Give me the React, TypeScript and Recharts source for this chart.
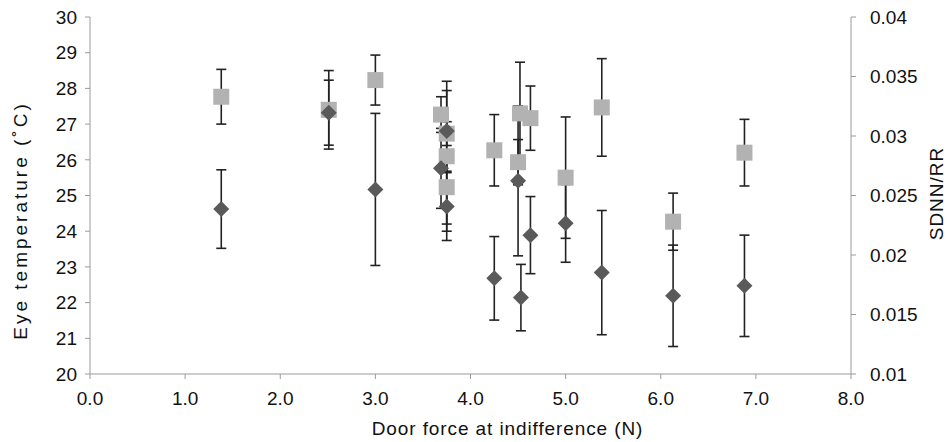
import React from 'react';
import { ScatterChart, Scatter, XAxis, YAxis, ErrorBar } from 'recharts';

// SDNN/RR (light squares, right axis)
const sdnnForce = [1.38, 2.51, 3.0, 3.69, 3.75, 3.75, 3.75, 4.25, 4.52, 4.63, 4.5, 5.0, 5.38, 6.13, 6.88];
const sdnnValues = [0.0333, 0.0322, 0.0347, 0.0318, 0.0302, 0.0283, 0.0257, 0.0288, 0.0319, 0.0315, 0.0278, 0.0265, 0.0324, 0.0228, 0.0286];
const sdnnErrors = [0.0023, 0.0033, 0.0021, 0.0015, 0.001, 0.0063, 0.0031, 0.003, 0.0043, 0.0027, 0.0019, 0.0051, 0.0041, 0.0024, 0.0028];

// Eye temperature (dark diamonds, left axis)
const eyeForce = [1.38, 2.51, 3.0, 3.75, 3.69, 3.75, 4.25, 4.5, 4.53, 4.63, 5.0, 5.38, 6.13, 6.88];
const eyeValues = [24.62, 27.32, 25.17, 26.81, 25.76, 24.69, 22.68, 25.41, 22.14, 23.89, 24.22, 22.84, 22.19, 22.47];
const eyeErrors = [1.1, 0.91, 2.13, 1.13, 1.12, 0.95, 1.17, 2.1, 0.93, 1.08, 1.09, 1.74, 1.42, 1.42];

const xTicks = [0, 1, 2, 3, 4, 5, 6, 7, 8];
const leftTicks = [20, 21, 22, 23, 24, 25, 26, 27, 28, 29, 30];
const rightTicks = [0.01, 0.015, 0.02, 0.025, 0.03, 0.035, 0.04];

const sdnnData = sdnnForce.map((x, i) => ({ x, y: sdnnValues[i], err: sdnnErrors[i] }));
const eyeData = eyeForce.map((x, i) => ({ x, y: eyeValues[i], err: eyeErrors[i] }));

const axisColor = '#9a9a9a';
const tickStyle = { fontSize: 19, fill: '#111' };

const Square = (props: any) => (
  <rect x={props.cx - 8} y={props.cy - 8} width={16} height={16} fill="#b2b2b2" />
);

const Diamond = (props: any) => {
  const { cx, cy } = props;
  return <polygon points={`${cx},${cy - 8} ${cx + 8},${cy} ${cx},${cy + 8} ${cx - 8},${cy}`} fill="#5a5a5a" />;
};

const App = () => {
  return (
    <div style={{ position: 'absolute', left: 0, top: 0, width: 948, height: 442, background: '#fff', fontFamily: '"Liberation Sans", Arial, sans-serif' }}>
      <ScatterChart width={948} height={442} margin={{ top: 17, right: 0, bottom: 0, left: 0 }}>
        <XAxis
          type="number"
          dataKey="x"
          domain={[0, 8]}
          ticks={xTicks}
          tickFormatter={(v: number) => v.toFixed(1)}
          height={68}
          stroke={axisColor}
          tick={tickStyle}
          tickSize={5}
          tickMargin={13}
          label={{ value: 'Door force at indifference (N)', position: 'insideBottom', offset: 7, dx: 37, style: { fontSize: 19, fill: '#111', letterSpacing: 0.9 } }}
        />
        <YAxis
          yAxisId="left"
          type="number"
          dataKey="y"
          domain={[20, 30]}
          ticks={leftTicks}
          width={90}
          stroke={axisColor}
          tick={tickStyle}
          tickSize={5}
          tickMargin={8}
          label={{ value: 'Eye temperature (˚C)', angle: -90, position: 'insideLeft', offset: 20, dy: 25, style: { fontSize: 19, fill: '#111', textAnchor: 'middle', letterSpacing: 3 } }}
        />
        <YAxis
          yAxisId="right"
          orientation="right"
          type="number"
          dataKey="y"
          domain={[0.01, 0.04]}
          ticks={rightTicks}
          width={97}
          stroke={axisColor}
          tick={tickStyle}
          tickSize={5}
          tickMargin={14}
          label={{ value: 'SDNN/RR', angle: -90, position: 'insideRight', offset: 12, dy: -2, style: { fontSize: 19, fill: '#111', textAnchor: 'middle', letterSpacing: 1 } }}
        />
        <Scatter data={sdnnData} yAxisId="right" shape={Square} isAnimationActive={false}>
          <ErrorBar dataKey="err" direction="y" width={5} stroke="#222" strokeWidth={1.6} isAnimationActive={false} />
        </Scatter>
        <Scatter data={eyeData} yAxisId="left" shape={Diamond} isAnimationActive={false}>
          <ErrorBar dataKey="err" direction="y" width={5} stroke="#222" strokeWidth={1.6} isAnimationActive={false} />
        </Scatter>
      </ScatterChart>
    </div>
  );
};

export default App;
